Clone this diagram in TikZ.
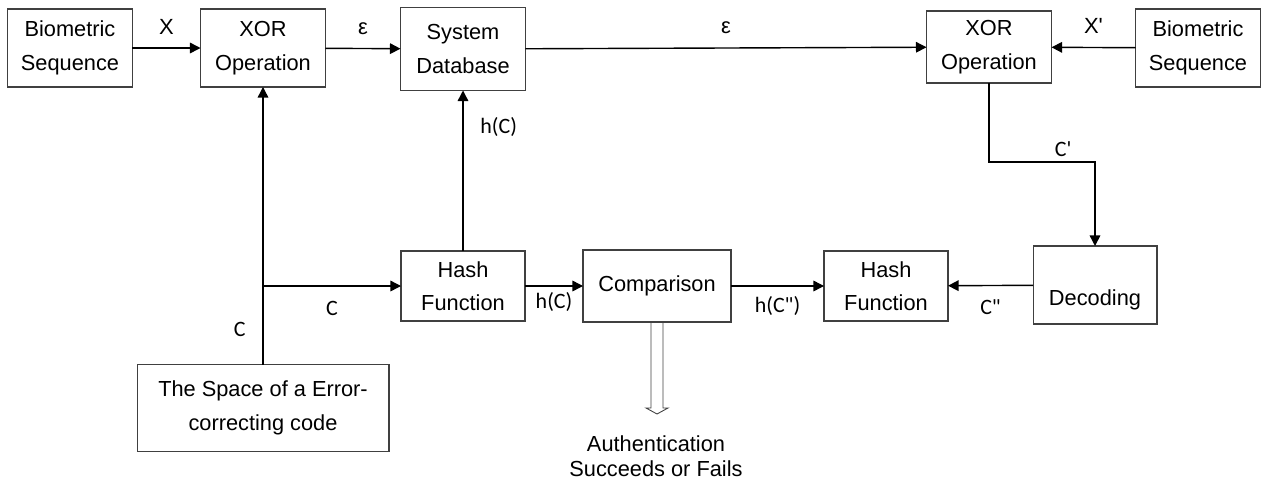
\documentclass[tikz,border=0pt]{standalone}
\usepackage{fontspec}
\setmainfont{Liberation Sans}[Ligatures=TeXOff]
\newfontfamily\lblfont{Carlito}[Ligatures=TeXOff]
\usetikzlibrary{arrows.meta}
\tikzset{
  block/.style={draw=black!75, line width=0.6pt, align=center, inner sep=0pt, outer sep=0pt,
    minimum width=2.5cm, minimum height=1.56cm, font=\fontsize{12.4}{19}\selectfont},
  link/.style={line width=0.8pt, -{Triangle[length=6pt,width=6pt]}},
  lbl/.style={inner sep=1.5pt, font=\lblfont\fontsize{12.5}{15}\selectfont},
  sym/.style={inner sep=1.5pt, font=\fontsize{12.5}{15}\selectfont}
}
\begin{document}
\begin{tikzpicture}[x=0.02cm, y=-0.02cm]
  \useasboundingbox (0,0) rectangle (1270,484);
  \node[block] (bio1) at (70,48) {Biometric\\Sequence};
  \node[block] (xor1) at (263,48) {XOR\\Operation};
  \node[block, minimum height=1.66cm] (db) at (463,49) {System\\Database};
  \node[block, minimum height=1.44cm] (xor2) at (989,47) {XOR\\Operation};
  \node[block] (bio2) at (1198,48) {Biometric\\Sequence};
  \node[block, minimum width=2.48cm, minimum height=1.4cm] (hash1) at (463,286) {Hash\\Function};
  \node[block, minimum width=2.96cm, minimum height=1.44cm] (cmp) at (657,286) {Comparison};
  \node[block, minimum width=2.48cm, minimum height=1.4cm] (hash2) at (886,286) {Hash\\Function};
  \node[block, minimum width=2.48cm] (dec) at (1095,285) {\raisebox{-0.41cm}[0pt][0pt]{Decoding}};
  \node[block, minimum width=5.04cm, minimum height=1.74cm] (ecc) at (263,408) {The Space of a Error-\\correcting code};
  \node[align=center, inner sep=0pt, font=\fontsize{12.4}{14.2}\selectfont] (auth) at (656,456) {Authentication\\Succeeds or Fails};
  \coordinate (split) at (263,286);
  \coordinate (bend) at (989,162);
  \begin{scope}
    \draw[link] (bio1) -- node[sym, above=6pt] {X} (xor1);
    \draw[link] (xor1) -- node[sym, above=6pt] {ε} (db);
    \draw[link] (db) -- node[sym, above=6pt] {ε} (xor2);
    \draw[link] (bio2) -- node[sym, above=6pt] {X'} (xor2);
    \draw[link] (xor2) -- (bend) -| node[lbl, pos=0.35, above=1pt] {C'} (dec);
    \draw[link] (ecc) -- node[lbl, pos=0.125, left=8pt] {C} (xor1);
    \draw[link] (split) -- node[lbl, below=7pt] {C} (hash1);
    \draw[link] (hash1) -- node[lbl, pos=0.77, right=8pt] {h(C)} (db);
    \draw[link] (hash1) -- node[lbl, below=2pt] {h(C)} (cmp);
    \draw[link] (cmp) -- node[lbl, below=4pt] {h(C")} (hash2);
    \draw[link] (dec) -- node[lbl, below=6pt] {C"} (hash2);
  \end{scope}
  \draw[draw=black!75, line width=0.5pt] (cmp.south) ++(-6,0) -- ++(0,86) -- ++(-5,0) -- ++(11,6) -- ++(11,-6) -- ++(-5,0) -- ++(0,-86);
\end{tikzpicture}
\end{document}
